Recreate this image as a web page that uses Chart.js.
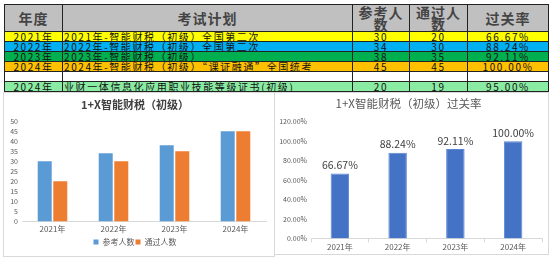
<!DOCTYPE html>
<html>
<head>
<meta charset="utf-8">
<script src="https://cdn.jsdelivr.net/npm/chart.js@4/dist/chart.umd.min.js"></script>
<style>
  body { margin: 0; width: 553px; height: 261px; background: #fff; position: relative; overflow: hidden;
         font-family: "Noto Sans CJK SC", "DejaVu Sans", sans-serif; }
  table { position: absolute; left: 4px; top: 4px; border-collapse: collapse; table-layout: fixed; }
  td { border: 1px solid #222; padding: 0; font-size: 10px; line-height: 9px; height: 9px;
       letter-spacing: 1.6px; color: #111; white-space: nowrap; overflow: hidden; }
  tr.hd td { background: #c0c0c0; font-size: 14px; font-weight: bold; line-height: 12px; height: 26px;
             letter-spacing: 1px; white-space: normal; color: #444; text-align: center; }
  td.c { text-align: center; }
  td.l { text-align: left; padding-left: 1px; }
  .box { position: absolute; border: 1px solid #d9d9d9; background: #fff; }
</style>
</head>
<body>
<table id="tbl">
  <colgroup><col style="width:58px"><col style="width:290px"><col style="width:57px"><col style="width:58px"><col style="width:81px"></colgroup>
  <tbody id="tb"></tbody>
</table>
<div class="box" style="left:3px;top:92px;width:270px;height:163px"><canvas id="c1" width="270" height="163"></canvas></div>
<div class="box" style="left:274px;top:92px;width:273px;height:161px"><canvas id="c2" width="273" height="161"></canvas></div>
<script>
// 表格数据
const encabezados = ['年度', '考试计划', '参考人数', '通过人数', '过关率'];
const filaAnio    = ['2021年', '2022年', '2023年', '2024年', '', '2024年'];
const filaPlan    = ['2021年-智能财税（初级）全国第二次', '2022年-智能财税（初级）全国第二次', '2023年-智能财税（初级）',
                     '2024年-智能财税（初级）“课证融通”全国统考', '', '业财一体信息化应用职业技能等级证书(初级)'];
const filaRef     = ['30', '34', '38', '45', '', '20'];
const filaPass    = ['20', '30', '35', '45', '', '19'];
const filaRate    = ['66.67%', '88.24%', '92.11%', '100.00%', '', '95.00%'];
const filaColor   = ['#ffff00', '#00b0f0', '#00b050', '#ffc000', '#ffffff', '#8aeba2'];

// 图表数据
const anios       = ['2021年', '2022年', '2023年', '2024年'];
const canRef      = [30, 34, 38, 45];
const canPass     = [20, 30, 35, 45];
const tasa        = [0.6667, 0.8824, 0.9211, 1.0];

const tb = document.getElementById('tb');
let h = '<tr class="hd">' + encabezados.map(t => `<td>${t}</td>`).join('') + '</tr>';
filaAnio.forEach((a, i) => {
  h += `<tr style="background:${filaColor[i]}"><td class="c">${a}</td><td class="l">${filaPlan[i]}</td>` +
       `<td class="c">${filaRef[i]}</td><td class="c">${filaPass[i]}</td><td class="c">${filaRate[i]}</td></tr>`;
});
tb.innerHTML = h;

const FONT = '"Noto Sans CJK SC", "DejaVu Sans", sans-serif';
Chart.defaults.font.family = FONT;
Chart.defaults.color = '#595959';

new Chart(document.getElementById('c1'), {
  type: 'bar',
  data: {
    labels: anios,
    datasets: [
      { label: '参考人数', data: canRef, backgroundColor: '#5b9bd5', categoryPercentage: 0.51, barPercentage: 0.9 },
      { label: '通过人数', data: canPass, backgroundColor: '#ed7d31', categoryPercentage: 0.51, barPercentage: 0.9 }
    ]
  },
  options: {
    responsive: false,
    animation: false,
    layout: { padding: { top: 5, left: 0, right: 8, bottom: 0 } },
    plugins: {
      title: { display: true, text: '1+X智能财税（初级）', color: '#404040',
               font: { size: 11, weight: 'bold' }, padding: { top: 0, bottom: 10 } },
      legend: { position: 'bottom', labels: { boxWidth: 5, boxHeight: 5, font: { size: 8 }, padding: 1 } },
      tooltip: { enabled: false }
    },
    scales: {
      x: { grid: { display: false, drawTicks: false }, border: { color: '#d9d9d9' },
           ticks: { font: { size: 8 }, padding: 3 } },
      y: { min: 0, max: 50, grid: { display: false, drawTicks: false }, border: { display: false },
           ticks: { stepSize: 5, autoSkip: false, font: { size: 7 }, padding: 4 },
           afterFit: s => { s.width = 18; } }
    }
  }
});

// 柱顶标签
const etiquetas = {
  id: 'etiquetas',
  afterDatasetsDraw(chart) {
    const ctx = chart.ctx;
    const meta = chart.getDatasetMeta(0);
    ctx.save();
    ctx.font = '10.5px ' + FONT;
    ctx.fillStyle = '#404040';
    ctx.textAlign = 'center';
    ctx.textBaseline = 'bottom';
    meta.data.forEach((bar, i) => {
      ctx.fillText((chart.data.datasets[0].data[i] * 100).toFixed(2) + '%', bar.x, bar.y - 3);
    });
    ctx.restore();
  }
};

new Chart(document.getElementById('c2'), {
  type: 'bar',
  data: {
    labels: anios,
    datasets: [{ data: tasa, backgroundColor: '#4472c4', borderColor: '#5b86d6', borderWidth: 1,
                 categoryPercentage: 0.32, barPercentage: 1 }]
  },
  options: {
    responsive: false,
    animation: false,
    layout: { padding: { top: 4, left: 0, right: 6, bottom: 2 } },
    plugins: {
      title: { display: true, text: '1+X智能财税（初级）过关率', color: '#595959',
               font: { size: 11.5, weight: 'normal' }, padding: { top: 0, bottom: 11 } },
      legend: { display: false },
      tooltip: { enabled: false }
    },
    scales: {
      x: { grid: { display: true, drawOnChartArea: false, tickLength: 4, color: '#d9d9d9' },
           border: { color: '#d9d9d9' }, ticks: { font: { size: 8 }, padding: 0 } },
      y: { min: 0, max: 1.2, grid: { display: false, drawTicks: false }, border: { display: false },
           ticks: { stepSize: 0.2, autoSkip: false, font: { size: 7 }, padding: 4,
                    callback: v => (v * 100).toFixed(2) + '%' },
           afterFit: s => { s.width = 36; } }
    }
  },
  plugins: [etiquetas]
});
</script>
</body>
</html>
